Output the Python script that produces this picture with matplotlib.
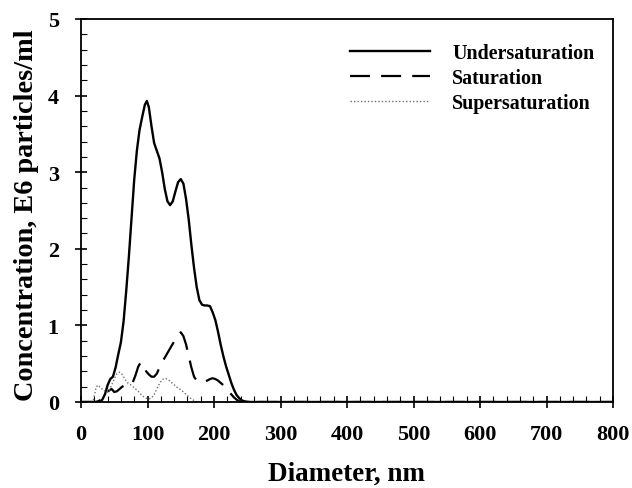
import matplotlib
matplotlib.use("Agg")
import matplotlib.pyplot as plt
from matplotlib.ticker import MultipleLocator

plt.rcParams['font.family'] = ['Liberation Serif', 'DejaVu Serif']
plt.rcParams['font.weight'] = 'bold'

under_x = [0, 20, 28, 32, 36, 40, 44, 48, 52, 56, 60, 64, 68, 72, 76, 80, 84, 88, 92, 96, 99,
           102, 106, 110, 114, 118, 122, 126, 130, 134, 138, 142, 146, 150, 154, 158, 162, 166,
           170, 174, 178, 182, 186, 190, 194, 198, 202, 206, 210, 214, 218, 222, 226, 230, 234,
           238, 242, 248, 255, 800]
under_y = [0, 0, 0, 0.03, 0.1, 0.22, 0.3, 0.33, 0.45, 0.62, 0.78, 1.05, 1.45, 1.9, 2.4, 2.9, 3.28,
           3.55, 3.72, 3.88, 3.93, 3.85, 3.6, 3.38, 3.28, 3.18, 3.0, 2.78, 2.62, 2.57, 2.62, 2.75,
           2.87, 2.91, 2.85, 2.65, 2.38, 2.05, 1.75, 1.5, 1.33, 1.27, 1.26, 1.26, 1.25, 1.17, 1.07,
           0.92, 0.75, 0.6, 0.47, 0.36, 0.25, 0.16, 0.09, 0.05, 0.02, 0.005, 0, 0]

sat_x = [0, 22, 26, 32, 38, 42, 46, 50, 54, 58, 62, 66, 70, 74, 78, 82, 86, 90, 94, 98, 102, 106,
         110, 114, 118, 122, 126, 130, 134, 138, 142, 146, 150, 154, 158, 162, 166, 170, 174, 178,
         182, 186, 190, 194, 198, 202, 206, 210, 214, 218, 222, 226, 230, 234, 238, 242, 800]
sat_y = [0, 0, 0.01, 0.04, 0.1, 0.15, 0.17, 0.13, 0.14, 0.17, 0.2, 0.22, 0.22, 0.22, 0.26, 0.35,
         0.46, 0.52, 0.48, 0.4, 0.36, 0.33, 0.33, 0.37, 0.45, 0.52, 0.58, 0.64, 0.7, 0.76, 0.82,
         0.88, 0.91, 0.86, 0.75, 0.6, 0.45, 0.33, 0.28, 0.26, 0.26, 0.27, 0.28, 0.3, 0.31, 0.3,
         0.28, 0.25, 0.22, 0.18, 0.14, 0.1, 0.06, 0.03, 0.01, 0, 0]

super_x = [0, 18, 20, 23, 26, 30, 34, 38, 42, 46, 50, 54, 58, 62, 66, 70, 74, 78, 82, 86, 90, 94,
           98, 102, 106, 110, 114, 118, 122, 126, 130, 134, 138, 142, 146, 150, 154, 158, 162,
           166, 170, 174, 800]
super_y = [0, 0, 0.08, 0.2, 0.22, 0.18, 0.16, 0.12, 0.14, 0.22, 0.3, 0.37, 0.39, 0.36, 0.3, 0.25,
           0.23, 0.2, 0.17, 0.14, 0.1, 0.07, 0.05, 0.04, 0.05, 0.1, 0.17, 0.24, 0.29, 0.31, 0.3,
           0.27, 0.24, 0.21, 0.18, 0.16, 0.13, 0.1, 0.07, 0.04, 0.02, 0, 0]

labels = ["Undersaturation", "Saturation", "Supersaturation"]

fig = plt.figure(figsize=(6.32, 4.89), dpi=100)
ax = fig.add_axes([81/632, 86/489, (613-81)/632, (403-20)/489])

ax.plot(under_x, under_y, color='black', lw=1.7, ls='-', label=labels[0])
ax.plot(sat_x, sat_y, color='black', lw=1.6, ls=(0, (9, 5)), label=labels[1])
ax.plot(super_x, super_y, color='#707070', lw=1.0, ls=(0, (1, 1.5)), label=labels[2])

ax.set_xlim(0, 800)
ax.set_ylim(0, 5)
ax.xaxis.set_major_locator(MultipleLocator(100))
ax.xaxis.set_minor_locator(MultipleLocator(20))
ax.yaxis.set_major_locator(MultipleLocator(1))
ax.yaxis.set_minor_locator(MultipleLocator(0.2))
ax.tick_params(which='major', direction='inout', length=8, width=1.2, labelsize=16, pad=12)
ax.tick_params(which='minor', direction='in', length=4, width=0.8)
for s in ax.spines.values():
    s.set_linewidth(1.3)

ax.set_xlabel("Diameter, nm", fontsize=19.5, fontweight='bold')
ax.set_ylabel("Concentration, E6 particles/ml", fontsize=20.3, fontweight='bold')
ax.xaxis.set_label_coords(0.5, -0.154)
ax.yaxis.set_label_coords(-0.079, 0.49)

leg = ax.legend(loc='upper left', bbox_to_anchor=(0.506, 0.937), frameon=False, borderpad=0,
                borderaxespad=0, handlelength=4.0, handletextpad=1.1, labelspacing=0.24,
                prop={'family': 'Liberation Serif', 'weight': 'bold', 'size': 14.4})

fig.savefig("out.png", dpi=100)
